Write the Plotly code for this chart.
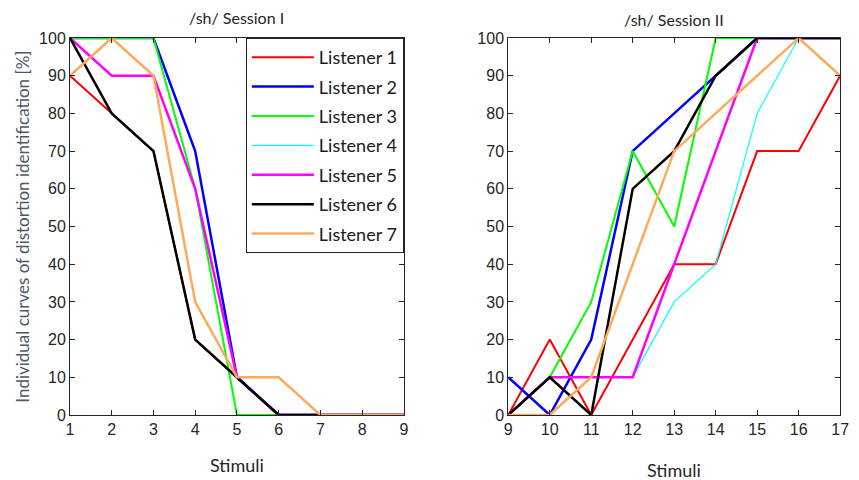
import plotly.graph_objects as go

stimuli_1 = [1, 2, 3, 4, 5, 6, 7, 8, 9]
stimuli_2 = [9, 10, 11, 12, 13, 14, 15, 16, 17]

listeners = ["Listener 1", "Listener 2", "Listener 3", "Listener 4",
             "Listener 5", "Listener 6", "Listener 7"]

session1 = {
    "Listener 1": [90, 80, 70, 20, 10, 0, 0, 0, 0],
    "Listener 2": [100, 100, 100, 70, 10, 0, 0, 0, 0],
    "Listener 3": [100, 100, 100, 60, 0, 0, 0, 0, 0],
    "Listener 4": [100, 90, 90, 60, 10, 0, 0, 0, 0],
    "Listener 5": [100, 90, 90, 60, 10, 0, 0, 0, 0],
    "Listener 6": [100, 80, 70, 20, 10, 0, 0, 0, 0],
    "Listener 7": [90, 100, 90, 30, 10, 10, 0, 0, 0],
}

session2 = {
    "Listener 1": [0, 20, 0, 20, 40, 40, 70, 70, 90],
    "Listener 2": [10, 0, 20, 70, 80, 90, 100, 100, 100],
    "Listener 3": [0, 10, 30, 70, 50, 100, 100, 100, 100],
    "Listener 4": [0, 10, 10, 10, 30, 40, 80, 100, 100],
    "Listener 5": [0, 10, 10, 10, 40, 70, 100, 100, 100],
    "Listener 6": [0, 10, 0, 60, 70, 90, 100, 100, 100],
    "Listener 7": [0, 0, 10, 40, 70, 80, 90, 100, 90],
}

colors = ["#ff0000", "#0000ff", "#00ff00", "#00ffff", "#ff00ff", "#000000", "#ffaa5a"]
widths = [2, 2.5, 2, 1.2, 2.5, 2.5, 2.5]

x_ticks_1 = [1, 2, 3, 4, 5, 6, 7, 8, 9]
x_ticks_2 = [9, 10, 11, 12, 13, 14, 15, 16, 17]
y_ticks = [0, 10, 20, 30, 40, 50, 60, 70, 80, 90, 100]

fig = go.Figure()
for i, name in enumerate(listeners):
    fig.add_trace(go.Scatter(
        x=stimuli_1, y=session1[name], mode="lines", name=name,
        line=dict(color=colors[i], width=widths[i]),
        xaxis="x", yaxis="y", legendgroup=name, showlegend=True))
for i, name in enumerate(listeners):
    fig.add_trace(go.Scatter(
        x=stimuli_2, y=session2[name], mode="lines", name=name,
        line=dict(color=colors[i], width=widths[i]),
        xaxis="x2", yaxis="y2", legendgroup=name, showlegend=False))

W, H = 859, 480
L1, R1 = 67, 406
L2, R2 = 512, 849
T, B = 38, 415

tick_font = dict(family="Liberation Sans, Arial", size=16, color="#262626")
txt_font = "Lato, Open Sans, sans-serif"

axis_common = dict(showgrid=False, zeroline=False, showline=True, linecolor="#262626",
                   linewidth=1, mirror="ticks", ticks="inside", ticklen=5,
                   tickcolor="#262626", tickfont=tick_font)

fig.update_layout(
    width=W, height=H,
    margin=dict(l=0, r=0, t=T, b=H - B),
    paper_bgcolor="white", plot_bgcolor="white",
    xaxis=dict(domain=[L1 / W, R1 / W], range=[1, 9], tickvals=x_ticks_1,
               anchor="y", **axis_common),
    yaxis=dict(domain=[0, 1], range=[0, 100], tickvals=y_ticks, anchor="x",
               **axis_common),
    xaxis2=dict(domain=[L2 / W, R2 / W], range=[9, 17], tickvals=x_ticks_2,
                anchor="y2", **axis_common),
    yaxis2=dict(domain=[0, 1], range=[0, 100], tickvals=y_ticks, anchor="x2",
                **axis_common),
    showlegend=True,
    legend=dict(x=R1 / W, xanchor="right", y=1, yanchor="top",
                bgcolor="white", bordercolor="#262626", borderwidth=1,
                font=dict(family=txt_font, size=18, color="#1a1a1a"),
                itemwidth=62, tracegroupgap=3, traceorder="grouped"),
)

ph = B - T


def py(ref_y):
    return (B - ref_y) / ph


def px(ref_x):
    return ref_x / W


annotations = [
    dict(text="/sh/ Session I", x=(L1 + R1) / 2 / W, y=py(18),
         xref="paper", yref="paper", showarrow=False, xanchor="center", yanchor="middle",
         font=dict(family=txt_font, size=16, color="#262626")),
    dict(text="/sh/ Session II", x=(L2 + R2) / 2 / W, y=py(19),
         xref="paper", yref="paper", showarrow=False, xanchor="center", yanchor="middle",
         font=dict(family=txt_font, size=16, color="#262626")),
    dict(text="Stimuli", x=(L1 + R1) / 2 / W, y=py(465),
         xref="paper", yref="paper", showarrow=False, xanchor="center", yanchor="middle",
         font=dict(family=txt_font, size=18, color="#262626")),
    dict(text="Stimuli", x=(L2 + R2) / 2 / W, y=py(470),
         xref="paper", yref="paper", showarrow=False, xanchor="center", yanchor="middle",
         font=dict(family=txt_font, size=18, color="#262626")),
    dict(text="Individual curves of distortion identification [%]", x=px(18),
         y=py(227), xref="paper", yref="paper", showarrow=False,
         xanchor="center", yanchor="middle",
         textangle=-90, font=dict(family=txt_font, size=17, color="#4a5868")),
]
fig.update_layout(annotations=annotations)

fig.write_html(
    "out.html",
    config={"displayModeBar": False},
    post_script="document.body.style.margin='0';document.body.style.overflow='hidden';",
)
